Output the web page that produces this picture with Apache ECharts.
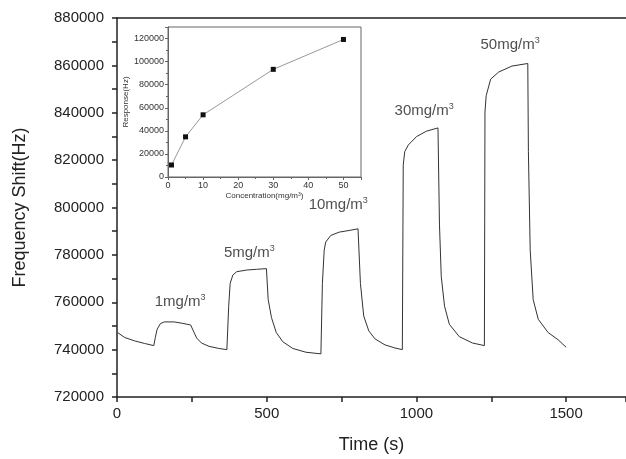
<!DOCTYPE html>
<html>
<head>
<meta charset="utf-8">
<script src="https://cdn.jsdelivr.net/npm/echarts@6/dist/echarts.min.js"></script>
<style>
  html, body { margin: 0; padding: 0; background: #fff; }
  #main { width: 626px; height: 459px; }
</style>
</head>
<body>
<div id="main"></div>
<script>
// 主曲线：时间(s) 与 频移(Hz)
const timeS = [2, 26, 59, 92, 123, 128, 134, 145, 158, 191, 219, 246, 255, 266, 282, 307, 340, 367,
  373, 378, 387, 400, 433, 466, 499, 505, 516, 532, 554, 587, 631, 681,
  686, 692, 697, 714, 742, 775, 805, 813, 824, 841, 862, 895, 928, 953,
  956, 961, 973, 1000, 1033, 1072, 1077, 1083, 1094, 1110, 1143, 1187, 1227,
  1229, 1233, 1248, 1275, 1319, 1372, 1374, 1380, 1390, 1407, 1440, 1473, 1500];
const freqHz = [747200, 745100, 743700, 742600, 741700, 745100, 748600, 751000, 751700, 751700, 751100, 750400, 747900, 744900, 742800, 741400, 740500, 740000,
  758300, 768000, 771500, 772900, 773600, 773900, 774200, 761100, 753500, 747200, 743300, 740500, 738900, 738200,
  768000, 782000, 785400, 788200, 789600, 790300, 791000, 768000, 754200, 747900, 744500, 742000, 740700, 740000,
  818000, 823600, 826400, 829900, 832200, 833600, 793000, 770800, 758300, 750700, 745500, 742800, 741700,
  840300, 847200, 854200, 857200, 859700, 860800, 823600, 782000, 761100, 752800, 747200, 744200, 741000];

// 浓度标注
const annoText = ['1', '5', '10', '30', '50'];
const annoTime = [211, 442, 739, 1026, 1313];
const annoFreq = [760000, 780800, 801200, 840800, 868700];

// 插图：浓度与响应
const concentration = [1, 5, 10, 30, 50];
const response = [10400, 34800, 53900, 93300, 119200];

const chart = echarts.init(document.getElementById('main'));
const font = 'Liberation Sans, Arial, sans-serif';
const plain = v => String(v);

let mainData = timeS.map((t, i) => [t, freqHz[i]]);
let annoData = annoTime.map((t, i) => ({ value: [t, annoFreq[i]], name: annoText[i] }));
let insetData = concentration.map((c, i) => [c, response[i]]);

let option = {
  backgroundColor: '#fff',
  animation: false,
  grid: [{
    left: 117, top: 18, width: 515, height: 384
  }, {
    left: 168, top: 27, width: 193, height: 150,
    show: true, borderColor: '#666', borderWidth: 1
  }],
  xAxis: [{
    gridIndex: 0, type: 'value', min: 0, max: 1700, interval: 500,
    name: 'Time (s)', nameLocation: 'middle', nameGap: 39,
    nameTextStyle: { fontSize: 18, color: '#222', fontFamily: font },
    axisLine: { lineStyle: { color: '#222', width: 1.5 } },
    axisTick: { length: 5, lineStyle: { color: '#222', width: 1.5 } },
    minorTick: { show: true, splitNumber: 2, length: 5, lineStyle: { color: '#222', width: 1.5 } },
    axisLabel: { fontSize: 15, color: '#222', fontFamily: font, margin: 9, showMaxLabel: false, formatter: plain },
    splitLine: { show: false }
  }, {
    // 顶部边框线
    gridIndex: 0, type: 'value', position: 'top', min: 0, max: 1700,
    axisLine: { onZero: false, lineStyle: { color: '#222', width: 1.5 } },
    axisTick: { show: false }, axisLabel: { show: false }, splitLine: { show: false }
  }, {
    gridIndex: 1, type: 'value', min: 0, max: 55, interval: 10,
    name: 'Concentration(mg/m{s|3})', nameLocation: 'middle', nameGap: 15,
    nameTextStyle: { fontSize: 8, color: '#333', fontFamily: font,
      rich: { s: { fontSize: 5, verticalAlign: 'top', color: '#333' } } },
    axisLine: { lineStyle: { color: '#666', width: 1 } },
    axisTick: { length: 3, lineStyle: { color: '#666' } },
    minorTick: { show: true, splitNumber: 2, length: 2, lineStyle: { color: '#666' } },
    axisLabel: { fontSize: 9, color: '#333', fontFamily: font, margin: 4, showMaxLabel: false, formatter: plain },
    splitLine: { show: false }
  }],
  yAxis: [{
    gridIndex: 0, type: 'value', min: 720000, max: 880000, interval: 20000,
    name: 'Frequency Shift(Hz)', nameLocation: 'middle', nameGap: 88,
    nameTextStyle: { fontSize: 18, color: '#222', fontFamily: font },
    axisLine: { lineStyle: { color: '#222', width: 1.5 } },
    axisTick: { length: 5, lineStyle: { color: '#222', width: 1.5 } },
    minorTick: { show: true, splitNumber: 2, length: 5, lineStyle: { color: '#222', width: 1.5 } },
    axisLabel: { fontSize: 15, color: '#222', fontFamily: font, margin: 13, formatter: plain },
    splitLine: { show: false }
  }, {
    gridIndex: 1, type: 'value', min: 0, max: 130000, interval: 20000,
    name: 'Response(Hz)', nameLocation: 'middle', nameGap: 38,
    nameTextStyle: { fontSize: 8, color: '#333', fontFamily: font },
    axisLine: { lineStyle: { color: '#666', width: 1 } },
    axisTick: { length: 3, lineStyle: { color: '#666' } },
    minorTick: { show: true, splitNumber: 2, length: 2, lineStyle: { color: '#666' } },
    axisLabel: { fontSize: 9, color: '#333', fontFamily: font, margin: 4, showMaxLabel: false, formatter: plain },
    splitLine: { show: false }
  }],
  series: [{
    type: 'line', xAxisIndex: 0, yAxisIndex: 0,
    data: mainData, showSymbol: false,
    lineStyle: { color: '#333', width: 1 }
  }, {
    type: 'scatter', xAxisIndex: 0, yAxisIndex: 0,
    data: annoData, symbolSize: 0,
    label: {
      show: true, position: 'inside',
      formatter: p => '{a|' + p.name + 'mg/m}{s|3}',
      rich: {
        a: { fontSize: 15, color: '#222', fontFamily: font, lineHeight: 18 },
        s: { fontSize: 9, color: '#222', fontFamily: font, verticalAlign: 'top', lineHeight: 18 }
      }
    }
  }, {
    type: 'line', xAxisIndex: 2, yAxisIndex: 1,
    data: insetData, symbol: 'rect', symbolSize: 5,
    itemStyle: { color: '#111' },
    lineStyle: { color: '#999', width: 1 }
  }]
};
chart.setOption(option);
</script>
</body>
</html>
